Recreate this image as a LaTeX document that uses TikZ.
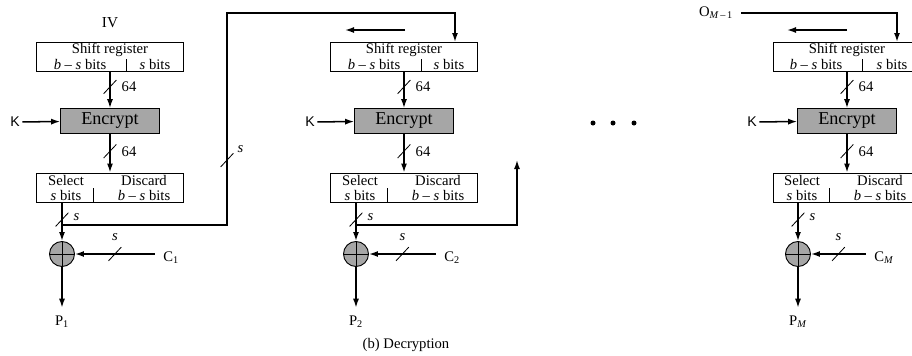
\documentclass[tikz,border=0pt]{standalone}
\usepackage{fontspec}
\setmainfont{Liberation Serif}
\newfontfamily\keyfont{Liberation Sans}
\usetikzlibrary{arrows.meta}

\begin{document}
\begin{tikzpicture}[x=0.03cm,y=-0.03cm,
    >={Latex[length=2.7mm,width=1.8mm]},
    font=\fontsize{12.5}{12}\selectfont,
    reg/.style={draw,line width=.8pt,minimum width=4.41cm,minimum height=.87cm,inner sep=0pt},
    cipher/.style={reg,fill=black!35,minimum width=2.96cm,minimum height=.74cm,
      font=\fontsize{15.5}{16}\selectfont},
    xorgate/.style={circle,draw,line width=.8pt,fill=black!35,minimum size=.75cm,inner sep=0pt,
      path picture={\draw[line width=.6pt]
        (path picture bounding box.north) -- (path picture bounding box.south)
        (path picture bounding box.west) -- (path picture bounding box.east);}},
    bus/.style={draw,line width=.7pt,minimum width=.56cm,minimum height=0pt,inner sep=0pt,rotate=47},
    wire/.style={line width=1.3pt},
    io/.style={inner sep=7pt},
    dot/.style={circle,fill,minimum size=.15cm,inner sep=0pt}]

  \useasboundingbox (0,0) rectangle (912,355);
  \clip (0,0) rectangle (912,355);

  % boxes
  \node[reg] (sr1) at (110,56.5) {};
  \node[reg] (sr2) at (404,56.5) {};
  \node[reg] (sr3) at (847,56.5) {};
  \node[cipher] (enc1) at (110,121) {Encrypt};
  \node[cipher] (enc2) at (404,121) {Encrypt};
  \node[cipher] (enc3) at (847,121) {Encrypt};
  \node[reg] (sel1) at (110,187.5) {};
  \node[reg] (sel2) at (404,187.5) {};
  \node[reg] (sel3) at (847,187.5) {};
  \node[xorgate] (x1) at (62,254) {};
  \node[xorgate] (x2) at (356,254) {};
  \node[xorgate] (x3) at (798,254) {};

  \begin{scope}[line width=.8pt]
    \draw (126,59) -- (126,71);
    \draw (421,59) -- (421,71);
    \draw (862,59) -- (862,71);
    \draw (93,188) -- (93,202);
    \draw (387,188) -- (387,202);
    \draw (829,188) -- (829,202);
  \end{scope}

  % texts
  \begin{scope}[every node/.style={inner sep=1pt}]
    \node[font=\fontsize{13}{13}\selectfont] (iv) at (110,23) {IV};
    \node (srt1) at (110,50) {Shift register};
    \node (srt2) at (404,50) {Shift register};
    \node (srt3) at (847,50) {Shift register};
    \node (srl1) at (80,64) {\textit{b} -- \textit{s} bits};
    \node (srl2) at (374,64) {\textit{b} -- \textit{s} bits};
    \node (srl3) at (816,64) {\textit{b} -- \textit{s} bits};
    \node (srr1) at (155,64) {\textit{s} bits};
    \node (srr2) at (449,64) {\textit{s} bits};
    \node (srr3) at (892,64) {\textit{s} bits};
    \node[align=center] (sell1) at (66,188) {Select\\\textit{s} bits};
    \node[align=center] (sell2) at (360,188) {Select\\\textit{s} bits};
    \node[align=center] (sell3) at (802,188) {Select\\\textit{s} bits};
    \node[align=center] (selr1) at (144,188) {Discard\\\textit{b} -- \textit{s} bits};
    \node[align=center] (selr2) at (438,188) {Discard\\\textit{b} -- \textit{s} bits};
    \node[align=center] (selr3) at (880,188) {Discard\\\textit{b} -- \textit{s} bits};
    \node (cap) at (406,345) {(b) Decryption};
  \end{scope}

  \begin{scope}[every node/.style={io}]
    \node[inner sep=2pt,font=\keyfont\fontsize{12}{12}\selectfont] (k1) at (15,122) {K};
    \node[inner sep=2pt,font=\keyfont\fontsize{12}{12}\selectfont] (k2) at (310,122) {K};
    \node[inner sep=2pt,font=\keyfont\fontsize{12}{12}\selectfont] (k3) at (752,122) {K};
    \node (c1) at (171,258) {C\textsubscript{1}};
    \node (c2) at (452,258) {C\textsubscript{2}};
    \node (c3) at (884,258) {C\textsubscript{\textit{M}}};
    \node (p1) at (62,322) {P\textsubscript{1}};
    \node (p2) at (356,322) {P\textsubscript{2}};
    \node (p3) at (798,322) {P\textsubscript{\textit{M}}};
    \node (om) at (716,13) {O\textsubscript{\textit{M}\,--\,1}};
  \end{scope}

  \node[dot] (d1) at (593,123) {};
  \node[dot] (d2) at (613,123) {};
  \node[dot] (d3) at (634,123) {};

  \coordinate (so1) at (62,202);
  \coordinate (so2) at (356,202);
  \coordinate (so3) at (798,202);
  \coordinate (fb1) at (62,225);
  \coordinate (fb2) at (356,225);
  \coordinate (up1) at (227,13);
  \coordinate (up2) at (517,160);
  \coordinate (in2) at (455,42);
  \coordinate (in3) at (897,42);
  \coordinate (sh2a) at (405,30);
  \coordinate (sh2b) at (345,30);
  \coordinate (sh3a) at (847,30);
  \coordinate (sh3b) at (787,30);

  % connectors
  \begin{scope}[wire,->]
    \draw (k1) -- (enc1);
    \draw (k2) -- (enc2);
    \draw (k3) -- (enc3);
    \draw (sr1) -- node[bus,pos=.42]{} node[pos=.42,anchor=west,xshift=6pt]{64} (enc1);
    \draw (sr2) -- node[bus,pos=.42]{} node[pos=.42,anchor=west,xshift=6pt]{64} (enc2);
    \draw (sr3) -- node[bus,pos=.42]{} node[pos=.42,anchor=west,xshift=6pt]{64} (enc3);
    \draw (enc1) -- node[bus,pos=.45]{} node[pos=.45,anchor=west,xshift=6pt]{64} (sel1);
    \draw (enc2) -- node[bus,pos=.45]{} node[pos=.45,anchor=west,xshift=6pt]{64} (sel2);
    \draw (enc3) -- node[bus,pos=.45]{} node[pos=.45,anchor=west,xshift=6pt]{64} (sel3);
    \draw (so1) -- node[bus,pos=.45]{} node[pos=.38,anchor=west,xshift=6pt]{\textit{s}} (x1);
    \draw (so2) -- node[bus,pos=.45]{} node[pos=.38,anchor=west,xshift=6pt]{\textit{s}} (x2);
    \draw (so3) -- node[bus,pos=.45]{} node[pos=.38,anchor=west,xshift=6pt]{\textit{s}} (x3);
    \draw (c1.west |- x1) -- node[bus]{} node[anchor=south,yshift=7pt]{\textit{s}} (x1);
    \draw (c2.west |- x2) -- node[bus]{} node[anchor=south,yshift=7pt]{\textit{s}} (x2);
    \draw (c3.west |- x3) -- node[bus]{} node[anchor=south,yshift=7pt]{\textit{s}} (x3);
    \draw (x1) -- (p1);
    \draw (x2) -- (p2);
    \draw (x3) -- (p3);
    \draw (fb1) -| node[bus,pos=.653]{} node[pos=.68,anchor=west,xshift=5pt]{\textit{s}} (up1) -| (in2);
    \draw (fb2) -| (up2);
    \draw (om) -| (in3);
    \draw (sh2a) -- (sh2b);
    \draw (sh3a) -- (sh3b);
  \end{scope}

\end{tikzpicture}
\end{document}
